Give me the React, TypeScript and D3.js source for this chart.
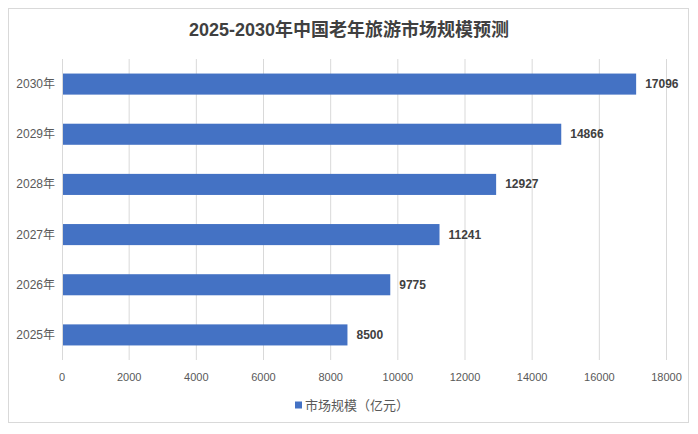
import React from "react";
import * as d3 from "d3";

const categories = ["2025年", "2026年", "2027年", "2028年", "2029年", "2030年"];
const values = [8500, 9775, 11241, 12927, 14866, 17096];
const xTicks = [0, 2000, 4000, 6000, 8000, 10000, 12000, 14000, 16000, 18000];
const title = "2025-2030年中国老年旅游市场规模预测";
const seriesName = "市场规模（亿元）";

const W = 698, H = 434;
const font = "'Liberation Sans', 'Noto Sans CJK SC', sans-serif";

export default function App() {
  const x = d3.scaleLinear().domain([0, 18000]).range([62, 666.5]);
  const y = d3.scaleBand<string>().domain([...categories].reverse()).range([59, 360]).paddingInner(0.58).paddingOuter(0.29);
  const bh = y.bandwidth();
  return (
    <svg width={W} height={H} style={{ position: "absolute", left: 0, top: 0 }}>
      <rect x={0} y={0} width={W} height={H} fill="#fff" />
      <rect x={8.5} y={8.5} width={680} height={414} fill="#fff" stroke="#d9d9d9" />
      <text x={349} y={30} textAnchor="middle" dominantBaseline="central" fontFamily={font} fontWeight="bold" fontSize={18} fill="#404040">{title}</text>
      {xTicks.slice(1).map((t) => (
        <line key={t} x1={x(t)} x2={x(t)} y1={59} y2={360} stroke="#d9d9d9" strokeWidth={1} />
      ))}
      {categories.map((c, i) => (
        <g key={c}>
          <rect x={x(0)} y={y(c)!} width={x(values[i]) - x(0)} height={bh} fill="#4472C4" />
          <text x={x(values[i]) + 9} y={y(c)! + bh / 2} dominantBaseline="central" fontFamily={font} fontWeight="bold" fontSize={12} fill="#404040">{values[i]}</text>
          <text x={55} y={y(c)! + bh / 2} dominantBaseline="central" textAnchor="end" fontFamily={font} fontSize={12} fill="#595959">{c}</text>
        </g>
      ))}
      <line x1={x(0) + 0.5} x2={x(0) + 0.5} y1={59} y2={360} stroke="#d9d9d9" strokeWidth={1} />
      {xTicks.map((t) => (
        <text key={t} x={x(t)} y={377} textAnchor="middle" dominantBaseline="central" fontFamily={font} fontSize={11} fill="#595959">{t}</text>
      ))}
      <rect x={295} y={401.5} width={7} height={7} fill="#4472C4" />
      <text x={305} y={405} dominantBaseline="central" fontFamily={font} fontSize={13} fill="#595959">{seriesName}</text>
    </svg>
  );
}
